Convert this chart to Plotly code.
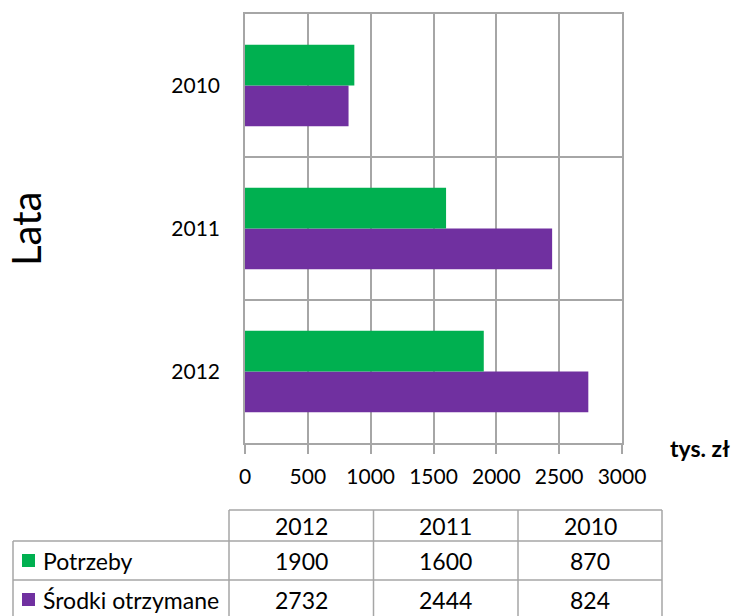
import plotly.graph_objects as go

# ---- data ----
years = ['2012', '2011', '2010']
potrzeby = [1900, 1600, 870]
srodki = [2732, 2444, 824]
series_names = ['Potrzeby', 'Środki otrzymane']
x_ticks = [0, 500, 1000, 1500, 2000, 2500, 3000]
y_title = 'Lata'
x_unit = 'tys. zł'

GREEN = '#00B050'
PURPLE = '#7030A0'
GRID = '#A6A6A6'
FONT = 'Lato'
W, H = 732, 616


def px(x):
    return x / W


def py(y):
    return 1 - y / H


fig = go.Figure()
fig.add_trace(go.Bar(y=years, x=srodki, orientation='h', name=series_names[1],
                     marker=dict(color=PURPLE, line=dict(width=0))))
fig.add_trace(go.Bar(y=years, x=potrzeby, orientation='h', name=series_names[0],
                     marker=dict(color=GREEN, line=dict(width=0))))

# ---- data table (drawn under the chart) ----
col_x = [13, 229, 373.5, 518, 662]       # column borders (px)
row_y = [510, 541, 580, 619]             # row borders (px)
shapes = []
annotations = []
line = dict(color=GRID, width=1.5)
# horizontal lines
shapes.append(dict(type='line', xref='paper', yref='paper', x0=px(col_x[1]), x1=px(col_x[-1]),
                   y0=py(row_y[0]), y1=py(row_y[0]), line=line))
for ry in row_y[1:]:
    shapes.append(dict(type='line', xref='paper', yref='paper', x0=px(col_x[0]), x1=px(col_x[-1]),
                       y0=py(ry), y1=py(ry), line=line))
# vertical lines
shapes.append(dict(type='line', xref='paper', yref='paper', x0=px(col_x[0]), x1=px(col_x[0]),
                   y0=py(row_y[1]), y1=py(row_y[-1]), line=line))
for cx in col_x[1:]:
    shapes.append(dict(type='line', xref='paper', yref='paper', x0=px(cx), x1=px(cx),
                       y0=py(row_y[0]), y1=py(row_y[-1]), line=line))

tfont = dict(family=FONT, size=23, color='black')
# header
for i, yr in enumerate(years):
    annotations.append(dict(text=yr, xref='paper', yref='paper',
                            x=px((col_x[i + 1] + col_x[i + 2]) / 2),
                            y=py((row_y[0] + row_y[1]) / 2),
                            showarrow=False, font=tfont, xanchor='center', yanchor='middle'))
# body rows
rows = [(series_names[0], GREEN, potrzeby), (series_names[1], PURPLE, srodki)]
for r, (name, color, vals) in enumerate(rows):
    yc = py((row_y[r + 1] + row_y[r + 2]) / 2)
    shapes.append(dict(type='rect', xref='paper', yref='paper',
                       x0=px(22), x1=px(35), y0=yc - 6.5 / H, y1=yc + 6.5 / H,
                       fillcolor=color, line=dict(width=0)))
    annotations.append(dict(text=name, xref='paper', yref='paper', x=px(41), y=yc,
                            showarrow=False, font=tfont, xanchor='left', yanchor='middle'))
    for i, v in enumerate(vals):
        annotations.append(dict(text=str(v), xref='paper', yref='paper',
                                x=px((col_x[i + 1] + col_x[i + 2]) / 2), y=yc,
                                showarrow=False, font=tfont, xanchor='center', yanchor='middle'))

annotations += [
    dict(text=y_title, xref='paper', yref='paper', x=px(26), y=py(229),
         textangle=-90, showarrow=False, font=dict(family=FONT, size=40, color='black'),
         xanchor='center', yanchor='middle'),
    dict(text=f'<b>{x_unit}</b>', xref='paper', yref='paper', x=px(699.5), y=py(448),
         showarrow=False, font=dict(family=FONT, size=23, color='black'),
         xanchor='center', yanchor='middle'),
]

fig.update_layout(
    width=W, height=H, autosize=False,
    margin=dict(l=0, r=0, t=0, b=0, pad=0),
    paper_bgcolor='white', plot_bgcolor='white',
    showlegend=False,
    barmode='group', bargap=0.43, bargroupgap=0,
    font=dict(family=FONT, size=21, color='black'),
    xaxis=dict(domain=[px(245), px(622)], range=[0, 3000], tickvals=x_ticks,
               automargin=False,
               showgrid=True, gridcolor=GRID, gridwidth=1.5,
               showline=True, linecolor=GRID, linewidth=1.5, mirror=True,
               ticks='outside', ticklen=9, tickcolor=GRID, tickwidth=1.5,
               ticklabelstandoff=5,
               zeroline=False, tickfont=dict(size=21)),
    yaxis=dict(domain=[py(443), py(14)], type='category', automargin=False,
               tickson='boundaries', showgrid=True, gridcolor=GRID, gridwidth=1.5,
               showline=True, linecolor=GRID, linewidth=1.5, mirror=True,
               ticks='', ticklabelstandoff=19, tickfont=dict(size=21)),
    shapes=shapes,
    annotations=annotations,
)

fig.write_html('out.html', config={'displayModeBar': False},
               post_script="document.body.style.margin='0';document.body.style.overflow='hidden';")
